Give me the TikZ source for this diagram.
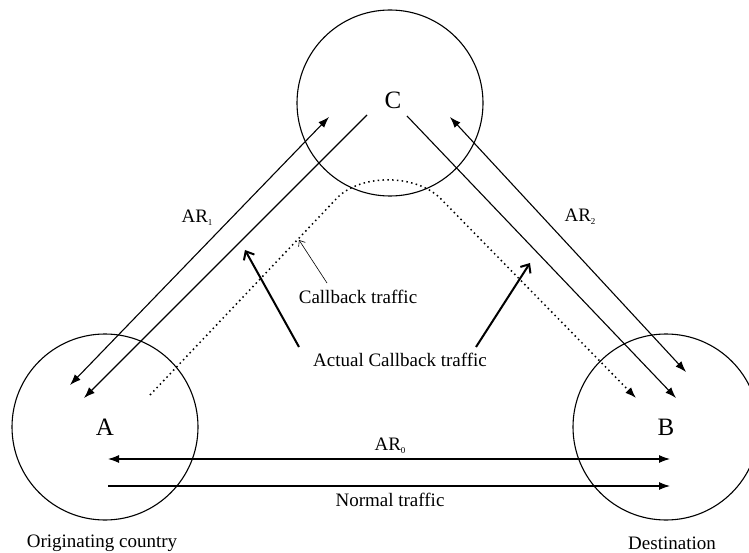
\documentclass[tikz,border=0pt]{standalone}
\usepackage{fontspec}
\setmainfont{Liberation Serif}
\usetikzlibrary{arrows.meta}

\newcommand{\indice}[1]{\raisebox{-3pt}{\fontsize{9}{9}\selectfont #1}}

\begin{document}
\begin{tikzpicture}[x=1pt, y=-1pt]
        \tikzstyle{pays}=[circle, draw, line width=1.1pt, minimum size=186pt, inner sep=0, font=\fontsize{25}{25}\selectfont];
        \tikzstyle{texte}=[inner sep=1pt, font=\fontsize{19}{22}\selectfont];
        \tikzstyle{fleche}=[line width=1.1pt, -{Latex[length=11pt,width=8pt]}];
        \tikzstyle{double}=[line width=1.1pt, {Latex[length=11pt,width=8pt]}-{Latex[length=11pt,width=8pt]}];
        \tikzstyle{epaisse}=[line width=2pt, -{Straight Barb[length=7pt,width=12pt]}];

        \useasboundingbox (0,0) rectangle (749,553);

        \node[pays] (A) at (105,427) {A};
        \node[pays] (B) at (666,427) {B};
        \node[pays] (C) at (390,103) {};
        \node[font=\fontsize{25}{25}\selectfont] (lC) at (393,100) {C};

        % extremites des fleches
        \coordinate (A1) at (70,385);
        \coordinate (A2) at (84,398);
        \coordinate (C1) at (329,117);
        \coordinate (C2) at (367,115);
        \coordinate (C3) at (407,116);
        \coordinate (C4) at (450,117);
        \coordinate (B1) at (676,398);
        \coordinate (B2) at (686,372);
        \coordinate (A0) at (108,459);
        \coordinate (B0) at (670,459);
        \coordinate (A5) at (108,486);
        \coordinate (B5) at (670,486);

        \draw[double] (A1) -- (C1);
        \draw[fleche] (C2) -- (A2);
        \draw[fleche] (C3) -- (B1);
        \draw[double] (C4) -- (B2);
        \draw[double] (A0) -- (B0);
        \draw[fleche] (A5) -- (B5);

        % trafic callback
        \coordinate (D1) at (150,395);
        \coordinate (D2) at (338,197);
        \coordinate (D3) at (440,198);
        \coordinate (D4) at (636,398);
        \draw[line width=1.5pt, dash pattern=on 1.5pt off 3.3pt, -{Latex[length=11pt,width=8pt]}]
          (D1) -- (D2) .. controls (362,174) and (415,174) .. (D3) -- (D4);

        \node[texte] (ar1) at (197,218) {AR\indice{1}};
        \node[texte] (ar2) at (580,217) {AR\indice{2}};
        \node[texte] (ar0) at (390,446) {AR\indice{0}};
        \node[texte] (normal) at (390,500) {Normal traffic};
        \node[texte] (orig) at (102,543) {Originating country};
        \node[texte] (dest) at (672,543) {Destination};
        \node[texte] (cb) at (358,297) {Callback traffic};
        \node[texte] (acb) at (400,360) {Actual Callback traffic};

        \coordinate (cb1) at (327,283);
        \coordinate (cb2) at (299,240);
        \draw[line width=0.6pt, -{Straight Barb[length=5pt,width=8pt]}] (cb1) -- (cb2);

        \coordinate (E1) at (299,347);
        \coordinate (E2) at (245,250);
        \coordinate (E3) at (476,347);
        \coordinate (E4) at (530,263);
        \draw[epaisse] (E1) -- (E2);
        \draw[epaisse] (E3) -- (E4);
    \end{tikzpicture}
\end{document}
